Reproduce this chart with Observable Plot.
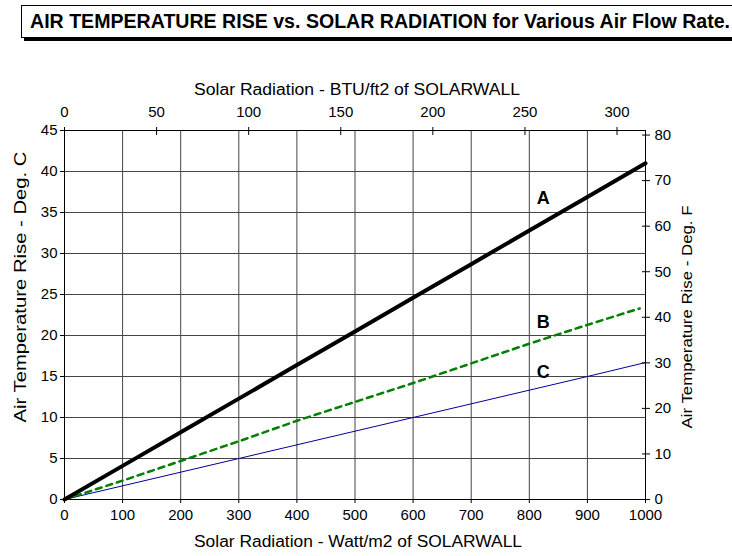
<!DOCTYPE html>
<html><head><meta charset="utf-8">
<script src="https://cdn.jsdelivr.net/npm/d3@7"></script>
<script src="https://cdn.jsdelivr.net/npm/@observablehq/plot@0.6"></script>
<style>
html,body{margin:0;padding:0;background:#fff;overflow:hidden;}
body{font-family:"Liberation Sans",Arial,sans-serif;width:732px;height:556px;}
#titlewrap{position:relative;height:45px;}
#titlebox{position:absolute;left:21px;top:5px;right:-30px;height:33px;border:1px solid #000;box-shadow:3px 3px 0 #000;box-sizing:border-box;}
#titletext{position:absolute;left:8px;top:3px;font-weight:bold;font-size:20px;line-height:24px;white-space:nowrap;transform-origin:0 50%;}
</style></head><body>
<div id="titlewrap"><div id="titlebox"><span id="titletext">AIR TEMPERATURE RISE vs. SOLAR RADIATION for Various Air Flow Rate.</span></div></div>
<div id="chart"></div>
<script>
// ---- data ----
const radiationA = [0, 100, 200, 300, 400, 500, 600, 700, 800, 900, 1000];
const riseA      = [0, 4.1, 8.2, 12.3, 16.4, 20.5, 24.6, 28.7, 32.8, 36.9, 41.0];
const radiationB = [0, 100, 200, 300, 400, 500, 600, 700, 800, 900, 990];
const riseB      = [0, 2.3, 4.7, 7.1, 9.6, 11.9, 14.2, 16.6, 19.0, 21.3, 23.3];
const radiationC = [0, 300, 600, 900, 1000];
const riseC      = [0, 5.0, 10.0, 15.0, 16.7];
const curveNames = ["A", "B", "C"];
const labelRadiation = [824, 824, 824];
const labelRise = [36.7, 21.6, 15.5];
const wattTicks = [0, 100, 200, 300, 400, 500, 600, 700, 800, 900, 1000];
const btuTicks = [0, 50, 100, 150, 200, 250, 300];
const degCTicks = [0, 5, 10, 15, 20, 25, 30, 35, 40, 45];
const degFTicks = [0, 10, 20, 30, 40, 50, 60, 70, 80];
const wattPerBtu = 3.17;   // W/m2 per BTU/ft2
const fPerC = 1.8;         // deg F rise per deg C rise
const axisTitles = {
  top: "Solar Radiation - BTU/ft2 of SOLARWALL",
  bottom: "Solar Radiation - Watt/m2 of SOLARWALL",
  left: "Air Temperature Rise - Deg. C",
  right: "Air Temperature Rise - Deg. F"
};

const series = (name, xs, ys) => xs.map((x, i) => ({name, x, y: ys[i]}));
const dataA = series("A", radiationA, riseA);
const dataB = series("B", radiationB, riseB);
const dataC = series("C", radiationC, riseC);
const labels = curveNames.map((n, i) => ({name: n, x: labelRadiation[i], y: labelRise[i]}));

const font = "'Liberation Sans', Arial, sans-serif";
const plain = d => String(d);
const tickFont = 15;
const chart = Plot.plot({
  width: 732, height: 511,
  marginTop: 85, marginBottom: 57, marginLeft: 64, marginRight: 87,
  style: {fontFamily: font, fontSize: "15px", color: "#000", background: "#fff"},
  x: {domain: [0, 1000]},
  y: {domain: [0, 45]},
  marks: [
    Plot.gridX(wattTicks, {stroke: "#444", strokeOpacity: 1}),
    Plot.gridY(degCTicks, {stroke: "#444", strokeOpacity: 1}),
    Plot.frame({stroke: "#000"}),
    Plot.axisX(wattTicks, {anchor: "bottom", tickSize: 4, tickPadding: 6, fontSize: tickFont, tickFormat: plain, label: null}),
    Plot.axisX(btuTicks.map(b => b * wattPerBtu), {anchor: "top", tickSize: 8, dy: 4, tickPadding: 10, fontSize: tickFont, tickFormat: d => String(Math.round(d / wattPerBtu)), label: null}),
    Plot.axisY(degCTicks, {anchor: "left", tickSize: 4, tickPadding: 3, fontSize: tickFont, tickFormat: plain, label: null}),
    Plot.axisY(degFTicks.map(f => f / fPerC), {anchor: "right", tickSize: 8, dx: -4, tickPadding: 5, fontSize: tickFont, tickFormat: d => String(Math.round(d * fPerC)), label: null}),
    Plot.line(dataC, {x: "x", y: "y", stroke: "#000099", strokeWidth: 1}),
    Plot.line(dataB, {x: "x", y: "y", stroke: "#008000", strokeWidth: 2.5, strokeDasharray: "6,5"}),
    Plot.line(dataA, {x: "x", y: "y", stroke: "#000", strokeWidth: 4}),
    Plot.text(labels, {x: "x", y: "y", text: "name", fontWeight: "bold", fontSize: 18}),
    Plot.text([axisTitles.top], {frameAnchor: "top", textAnchor: "middle", dy: -47, dx: 2, fontSize: 16}),
    Plot.text([axisTitles.bottom], {frameAnchor: "bottom", textAnchor: "middle", dy: 47, dx: 3, fontSize: 16}),
    Plot.text([axisTitles.left], {frameAnchor: "left", textAnchor: "middle", dx: -44, dy: -28, rotate: -90, fontSize: 16}),
    Plot.text([axisTitles.right], {frameAnchor: "right", textAnchor: "middle", dx: 42, dy: 2, rotate: -90, fontSize: 15})
  ]
});
document.getElementById("chart").append(chart);
const lengths = {[axisTitles.top]: 326, [axisTitles.bottom]: 328, [axisTitles.left]: 271, [axisTitles.right]: 223};
d3.select(chart).selectAll("text").each(function() {
  const L = lengths[this.textContent];
  if (L) d3.select(this).attr("textLength", L).attr("lengthAdjust", "spacingAndGlyphs");
});
const t = document.getElementById("titletext");
const w = t.getBoundingClientRect().width;
t.style.transform = `scaleX(${700 / w})`;
</script>
</body></html>
